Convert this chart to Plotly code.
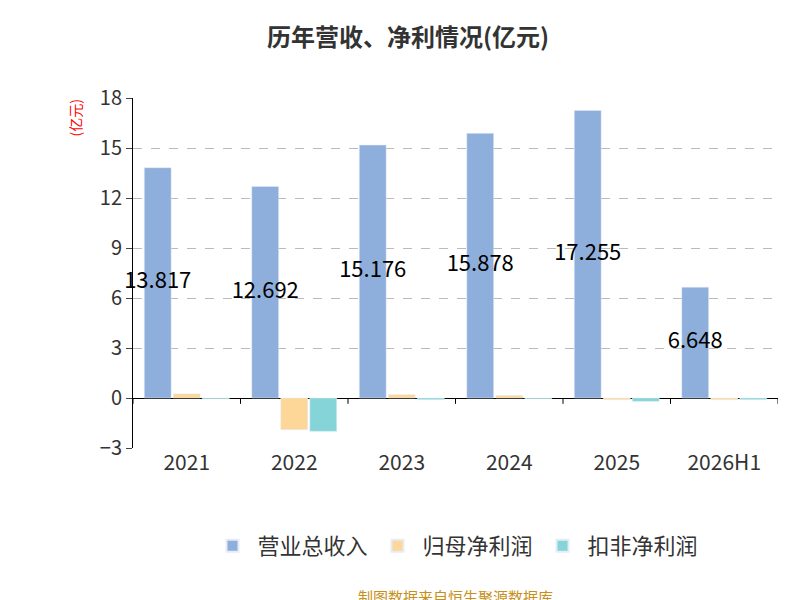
import plotly.graph_objects as go

years = ["2021", "2022", "2023", "2024", "2025", "2026H1"]
revenue = [13.817, 12.692, 15.176, 15.878, 17.255, 6.648]
net_profit = [0.25, -1.9, 0.2, 0.15, -0.1, -0.1]
deducted_profit = [-0.05, -2.0, -0.1, -0.05, -0.2, -0.1]

xs = list(range(len(years)))
w = 0.25
fig = go.Figure()
fig.add_bar(x=[i - 0.27 for i in xs], y=revenue, width=w, name="营业总收入", marker_color="#8eaedb")
fig.add_bar(x=xs, y=net_profit, width=w, name="归母净利润", marker_color="#fdd797")
fig.add_bar(x=[i + 0.27 for i in xs], y=deducted_profit, width=w, name="扣非净利润", marker_color="#84d4d8")
fig.add_scatter(x=[i - 0.27 for i in xs], y=[v / 2 for v in revenue], mode="text",
                text=[f"{v:.3f}" for v in revenue], textfont=dict(size=22, color="black"),
                showlegend=False, hoverinfo="skip", cliponaxis=False)

fig.update_layout(
    width=800, height=600, barmode="overlay", plot_bgcolor="white", paper_bgcolor="white",
    font=dict(family="Noto Sans CJK SC", color="#333"),
    title=dict(text="<b>历年营收、净利情况(亿元)</b>", x=0.5, y=0.965, font=dict(size=24)),
    margin=dict(l=125, r=30, t=90, b=160, autoexpand=False),
    legend=dict(orientation="h", x=0.5, xanchor="center", y=-0.22, font=dict(size=22),
                itemsizing="constant", itemwidth=40),
    xaxis=dict(tickvals=xs, ticktext=years, range=[-0.5, 5.5], showline=False, tickfont=dict(size=21),
               zeroline=False),
    yaxis=dict(range=[-3, 18], tickvals=list(range(-3, 19, 3)), showgrid=True, gridcolor="#bbb",
               griddash="dash", showline=True, linecolor="black", ticks="outside", ticklen=6,
               tickfont=dict(size=20), zeroline=True, zerolinecolor="black", zerolinewidth=1,
               automargin=False),
    annotations=[
        dict(text="(亿元)", x=-0.11, y=1.0, xref="paper", yref="paper", textangle=-90,
             showarrow=False, font=dict(color="red", size=14), yanchor="top"),
        dict(text="制图数据来自恒生聚源数据库", x=0.5, y=-0.46, xref="paper", yref="paper",
             showarrow=False, font=dict(color="#c8901a", size=15)),
    ],
)
for i in range(len(years) + 1):
    fig.add_shape(type="line", x0=i - 0.5, x1=i - 0.5, y0=0, y1=-0.35, line=dict(color="black", width=1))
fig.write_html("out.html")
